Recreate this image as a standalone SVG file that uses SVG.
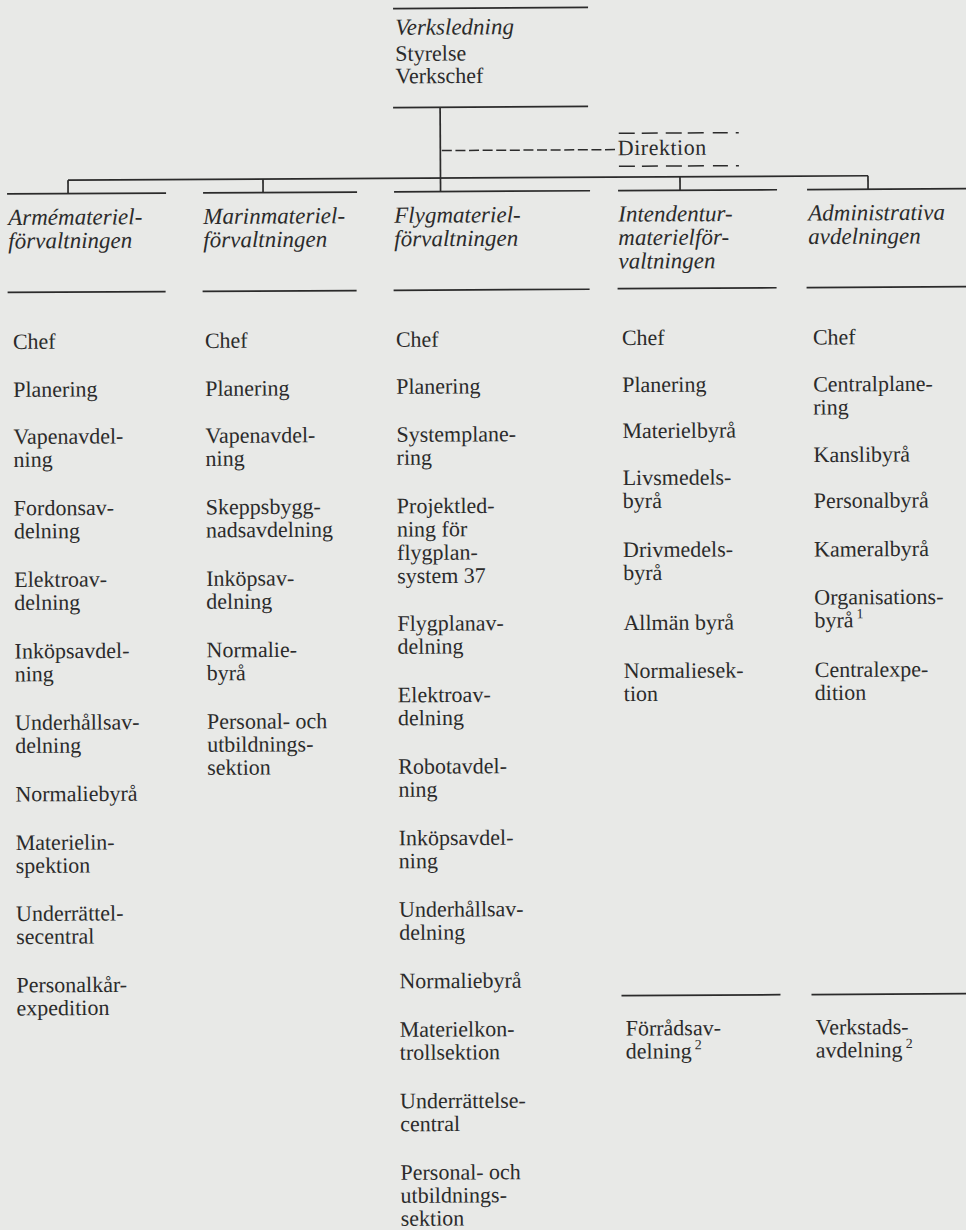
<svg xmlns="http://www.w3.org/2000/svg" width="966" height="1230" viewBox="0 0 966 1230">
<style>
text{font-family:"Liberation Serif","Times New Roman",serif;fill:#2b2b2b;font-size:22px}
.it{font-style:italic;font-size:23px}
.ln{stroke:#2b2b2b;stroke-width:1.7;fill:none}
.dash{stroke:#2b2b2b;stroke-width:1.5;fill:none}
.sup{font-size:14px}
</style>
<rect width="966" height="1230" fill="#e8e9e7"/>
<g transform="rotate(-0.315)">
<g id="connectors">
<line class="ln" x1="439.5" y1="109.7" x2="439.5" y2="194"/>
<line class="dash" x1="441" y1="153" x2="617" y2="153" stroke-dasharray="10 3.6"/>
<line class="ln" x1="67" y1="180.5" x2="867" y2="180.5"/>
<line class="ln" x1="67" y1="180.5" x2="67" y2="194"/>
<line class="ln" x1="262" y1="180.5" x2="262" y2="194"/>
<line class="ln" x1="679" y1="180.5" x2="679" y2="194"/>
<line class="ln" x1="867" y1="180.5" x2="867" y2="194"/>
</g>
<g id="verksledning">
<line class="ln" x1="393" y1="10.7" x2="588" y2="10.7"/>
<text x="395" y="37" class="it">Verksledning</text>
<text x="395" y="63">Styrelse</text>
<text x="395" y="85.5">Verkschef</text>
<line class="ln" x1="392.5" y1="109.7" x2="587.5" y2="109.7"/>
</g>
<g id="direktion">
<path class="dash" d="M618 136.7H634M641 136.7H657M665 136.7H681M687 136.7H703M712 136.7H727M735 136.7H738"/>
<text x="617" y="158.6" letter-spacing="0.5">Direktion</text>
<path class="dash" d="M618 169.7H634M641 169.7H657M665 169.7H681M687 169.7H703M712 169.7H727M735 169.7H738"/>
</g>
<g id="armematerielforvaltningen">
<line class="ln" x1="6" y1="194" x2="165" y2="194"/>
<text class="it" x="7" y="225"><tspan x="7">Armémateriel-</tspan><tspan x="7" dy="23.5">förvaltningen</tspan></text>
<line class="ln" x1="6" y1="292.5" x2="164" y2="292.5"/>
<text x="11" y="349">Chef</text>
<text x="11" y="397">Planering</text>
<text x="11" y="444"><tspan x="11">Vapenavdel-</tspan><tspan x="11" dy="23">ning</tspan></text>
<text x="11" y="515.5"><tspan x="11">Fordonsav-</tspan><tspan x="11" dy="23">delning</tspan></text>
<text x="11" y="587"><tspan x="11">Elektroav-</tspan><tspan x="11" dy="23">delning</tspan></text>
<text x="11" y="658.5"><tspan x="11">Inköpsavdel-</tspan><tspan x="11" dy="23">ning</tspan></text>
<text x="11" y="730"><tspan x="11">Underhållsav-</tspan><tspan x="11" dy="23">delning</tspan></text>
<text x="11" y="801.5">Normaliebyrå</text>
<text x="11" y="850"><tspan x="11">Materielin-</tspan><tspan x="11" dy="23">spektion</tspan></text>
<text x="11" y="921"><tspan x="11">Underrättel-</tspan><tspan x="11" dy="23">secentral</tspan></text>
<text x="11" y="992.5"><tspan x="11">Personalkår-</tspan><tspan x="11" dy="23">expedition</tspan></text>
</g>
<g id="marinmaterielforvaltningen">
<line class="ln" x1="202" y1="194" x2="356" y2="194"/>
<text class="it" x="202" y="225"><tspan x="202">Marinmateriel-</tspan><tspan x="202" dy="23.5">förvaltningen</tspan></text>
<line class="ln" x1="201" y1="292.5" x2="355" y2="292.5"/>
<text x="203" y="349">Chef</text>
<text x="203" y="397">Planering</text>
<text x="203" y="444"><tspan x="203">Vapenavdel-</tspan><tspan x="203" dy="23">ning</tspan></text>
<text x="203" y="515.5"><tspan x="203">Skeppsbygg-</tspan><tspan x="203" dy="23">nadsavdelning</tspan></text>
<text x="203" y="587"><tspan x="203">Inköpsav-</tspan><tspan x="203" dy="23">delning</tspan></text>
<text x="203" y="658.5"><tspan x="203">Normalie-</tspan><tspan x="203" dy="23">byrå</tspan></text>
<text x="203" y="730"><tspan x="203">Personal- och</tspan><tspan x="203" dy="23">utbildnings-</tspan><tspan x="203" dy="23">sektion</tspan></text>
</g>
<g id="flygmaterielforvaltningen">
<line class="ln" x1="393" y1="194" x2="589" y2="194"/>
<text class="it" x="393" y="225"><tspan x="393">Flygmateriel-</tspan><tspan x="393" dy="23.5">förvaltningen</tspan></text>
<line class="ln" x1="392" y1="292.5" x2="588" y2="292.5"/>
<text x="394" y="349">Chef</text>
<text x="394" y="396">Planering</text>
<text x="394" y="444"><tspan x="394">Systemplane-</tspan><tspan x="394" dy="23">ring</tspan></text>
<text x="394" y="515.5"><tspan x="394">Projektled-</tspan><tspan x="394" dy="23.3">ning för</tspan><tspan x="394" dy="23.3">flygplan-</tspan><tspan x="394" dy="23.3">system 37</tspan></text>
<text x="394" y="633"><tspan x="394">Flygplanav-</tspan><tspan x="394" dy="23">delning</tspan></text>
<text x="394" y="704.5"><tspan x="394">Elektroav-</tspan><tspan x="394" dy="23">delning</tspan></text>
<text x="394" y="776"><tspan x="394">Robotavdel-</tspan><tspan x="394" dy="23">ning</tspan></text>
<text x="394" y="847.5"><tspan x="394">Inköpsavdel-</tspan><tspan x="394" dy="23">ning</tspan></text>
<text x="394" y="919"><tspan x="394">Underhållsav-</tspan><tspan x="394" dy="23">delning</tspan></text>
<text x="394" y="990.5">Normaliebyrå</text>
<text x="394" y="1039"><tspan x="394">Materielkon-</tspan><tspan x="394" dy="23">trollsektion</tspan></text>
<text x="394" y="1110.5"><tspan x="394">Underrättelse-</tspan><tspan x="394" dy="23">central</tspan></text>
<text x="394" y="1182"><tspan x="394">Personal- och</tspan><tspan x="394" dy="23">utbildnings-</tspan><tspan x="394" dy="23">sektion</tspan></text>
</g>
<g id="intendenturmaterielforvaltningen">
<line class="ln" x1="617" y1="194" x2="776" y2="194"/>
<text class="it" x="617" y="225"><tspan x="617">Intendentur-</tspan><tspan x="617" dy="23.5">materielför-</tspan><tspan x="617" dy="23.5">valtningen</tspan></text>
<line class="ln" x1="616" y1="292" x2="775" y2="292"/>
<text x="620" y="348.5">Chef</text>
<text x="620" y="395.5">Planering</text>
<text x="620" y="441.5">Materielbyrå</text>
<text x="620" y="488.5"><tspan x="620">Livsmedels-</tspan><tspan x="620" dy="23">byrå</tspan></text>
<text x="620" y="560.5"><tspan x="620">Drivmedels-</tspan><tspan x="620" dy="23">byrå</tspan></text>
<text x="620" y="633.5">Allmän byrå</text>
<text x="620" y="681.5"><tspan x="620">Normaliesek-</tspan><tspan x="620" dy="23">tion</tspan></text>
</g>
<g id="forradsavdelning">
<line class="ln" x1="616" y1="999" x2="775" y2="999"/>
<text x="620" y="1039"><tspan x="620">Förrådsav-</tspan><tspan x="620" dy="23">delning</tspan></text>
<text class="sup" x="689" y="1053">2</text>
</g>
<g id="administrativa-avdelningen">
<line class="ln" x1="806" y1="194" x2="968" y2="194"/>
<text class="it" x="807" y="225"><tspan x="807">Administrativa</tspan><tspan x="807" dy="23.5">avdelningen</tspan></text>
<line class="ln" x1="805" y1="292" x2="968" y2="292"/>
<text x="811" y="349">Chef</text>
<text x="811" y="396"><tspan x="811">Centralplane-</tspan><tspan x="811" dy="23">ring</tspan></text>
<text x="811" y="466.5">Kanslibyrå</text>
<text x="811" y="512.5">Personalbyrå</text>
<text x="811" y="561">Kameralbyrå</text>
<text x="811" y="609"><tspan x="811">Organisations-</tspan><tspan x="811" dy="23">byrå</tspan></text>
<text class="sup" x="853" y="623">1</text>
<text x="811" y="681.5"><tspan x="811">Centralexpe-</tspan><tspan x="811" dy="23">dition</tspan></text>
</g>
<g id="verkstadsavdelning">
<line class="ln" x1="806" y1="999" x2="968" y2="999"/>
<text x="810" y="1039"><tspan x="810">Verkstads-</tspan><tspan x="810" dy="23">avdelning</tspan></text>
<text class="sup" x="900" y="1053">2</text>
</g>
</g>
</svg>
